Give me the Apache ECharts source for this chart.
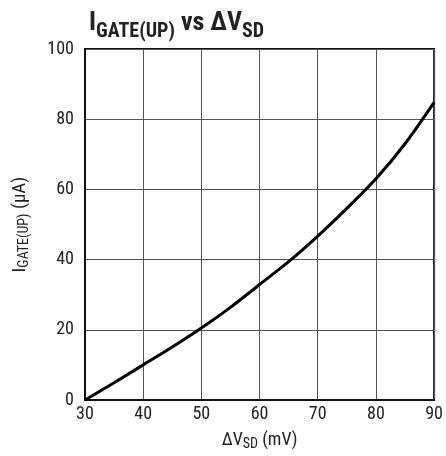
<!DOCTYPE html>
<html>
<head>
<meta charset="utf-8">
<script src="https://cdn.jsdelivr.net/npm/echarts@6/dist/echarts.min.js"></script>
<style>html,body{margin:0;padding:0;background:#fff}#c{width:446px;height:456px}</style>
</head>
<body>
<div id="c"></div>
<script>
const xValues = [30, 35, 40, 45, 50, 55, 60, 65, 70, 75, 80, 85, 90];
const iGateUp = [0, 4.9, 10.0, 15.1, 20.5, 26.4, 32.9, 39.4, 46.7, 54.6, 63.0, 73.0, 84.8];
const xTicks = [30, 40, 50, 60, 70, 80, 90];
const yTicks = [0, 20, 40, 60, 80, 100];

const FONT = '"Liberation Sans Narrow", "Roboto Condensed", "Liberation Sans", sans-serif';
const chart = echarts.init(document.getElementById('c'), null, {renderer: 'canvas'});
chart.setOption({
  animation: false,
  backgroundColor: '#fff',
  title: {
    left: 84, top: 1,
    text: '{b|I}{s|GATE(UP)}{b| vs ΔV}{s|SD}',
    textStyle: {
      rich: {
        b: {fontFamily: FONT, fontWeight: 'bold', fontSize: 26, color: '#222', verticalAlign: 'bottom', lineHeight: 30},
        s: {fontFamily: FONT, fontWeight: 'bold', fontSize: 20, color: '#222', padding: [0,0,-6,0], verticalAlign: 'bottom', lineHeight: 30}
      }
    }
  },
  grid: {left: 85, right: 10, top: 49, bottom: 56, show: true, borderColor: '#111', borderWidth: 2, containLabel: false},
  xAxis: {
    type: 'value', min: xTicks[0], max: xTicks[xTicks.length-1], interval: 10,
    axisLine: {show: true, lineStyle: {color: '#111', width: 2}},
    axisTick: {show: false},
    splitLine: {show: true, lineStyle: {color: '#555', width: 1}},
    axisLabel: {fontFamily: FONT, fontSize: 18, color: '#222', margin: 5},
    name: '{n|ΔV}{s|SD}{n| (mV)}', nameLocation: 'middle', nameGap: 30,
    nameTextStyle: {rich: {
      n: {fontFamily: FONT, fontSize: 18, color: '#222'},
      s: {fontFamily: FONT, fontSize: 14, color: '#222', padding: [7,0,0,0]}
    }}
  },
  yAxis: {
    type: 'value', min: yTicks[0], max: yTicks[yTicks.length-1], interval: 20,
    axisLine: {show: true, lineStyle: {color: '#111', width: 2}},
    axisTick: {show: false},
    splitLine: {show: true, lineStyle: {color: '#555', width: 1}},
    axisLabel: {fontFamily: FONT, fontSize: 18, color: '#222', margin: 11},
    name: '{n|I}{s|GATE(UP)}{n| (µA)}', nameLocation: 'middle', nameGap: 54, nameRotate: 90,
    nameTextStyle: {rich: {
      n: {fontFamily: FONT, fontSize: 19, color: '#222'},
      s: {fontFamily: FONT, fontSize: 14, color: '#222', padding: [7,0,0,0]}
    }}
  },
  series: [{
    type: 'line', data: xValues.map((x, i) => [x, iGateUp[i]]),
    smooth: 0.3, showSymbol: false, clip: false,
    lineStyle: {color: '#000', width: 3}
  }]
});
</script>
</body>
</html>
